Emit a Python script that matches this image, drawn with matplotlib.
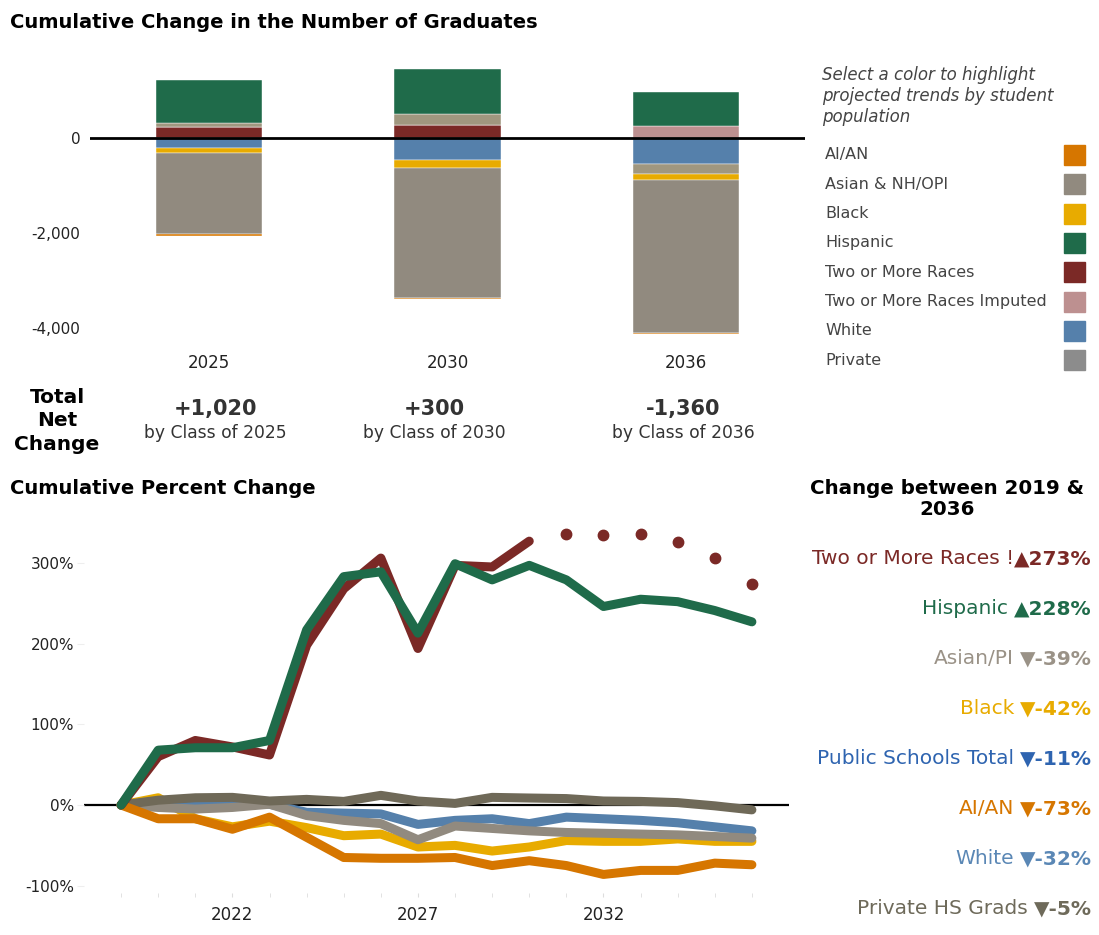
import numpy as np
import matplotlib.pyplot as plt
from matplotlib.patches import Rectangle

# ---- data: cumulative change in number of graduates ----
classes = ['2025', '2030', '2036']
bar_series = ['Two or More Races', 'Two or More Races Imputed', 'White', 'Private',
              'Black', 'Asian & NH/OPI', 'Hispanic', 'AI/AN']
two_more = [239, 267, 0]
two_more_imp = [0, 0, 245]
white = [-201, -468, -552]
private = [84, 245, -196]
black = [-105, -161, -126]
asian = [-1715, -2729, -3220]
hispanic = [888, 945, 714]
aian = [-30, -30, -30]
net_totals = ['+1,020', '+300', '-1,360']

legend_names = ['AI/AN', 'Asian & NH/OPI', 'Black', 'Hispanic', 'Two or More Races',
                'Two or More Races Imputed', 'White', 'Private']

# ---- data: cumulative percent change ----
years = np.arange(2019, 2037)
pct_two_more = [0, 60, 80, 72, 62, 198, 268, 306, 194, 297, 295, 327]
pct_two_more_proj = [327, 336, 334, 336, 326, 306, 274]
pct_hispanic = [0, 68, 71, 71, 80, 217, 283, 289, 213, 299, 279, 297, 279, 246, 255, 252, 241, 227]
pct_private = [0, 6, 9, 9.5, 5, 7, 4.5, 12, 5, 2, 9.5, 8.7, 8, 5, 4.5, 3, -1, -6]
pct_white = [0, 1, 1, 1, 1, -9, -10, -11, -24, -19, -17, -23, -15, -17, -19, -22, -27, -32]
pct_asian = [0, -3, -5, -3, 1, -13, -19, -23, -43, -26, -29, -32, -34, -35, -36, -37, -39, -41]
pct_black = [0, 9, -17, -27, -20, -28, -38, -36, -52, -50, -57, -52, -44, -45, -45, -42, -45, -45]
pct_aian = [0, -17, -17, -30, -15, -40, -65, -66, -66, -65, -75, -69, -75, -86, -81, -81, -72, -74]

summary_names = ['Two or More Races !', 'Hispanic ', 'Asian/PI ', 'Black ',
                 'Public Schools Total ', 'AI/AN ', 'White ', 'Private HS Grads ']
summary_values = ['▲273%', '▲228%', '▼-39%', '▼-42%', '▼-11%', '▼-73%', '▼-32%', '▼-5%']

colors = {
    'AI/AN': '#d67600',
    'Asian & NH/OPI': '#918a7f',
    'Black': '#e8ab00',
    'Hispanic': '#1f6b4a',
    'Two or More Races': '#7b2926',
    'Two or More Races Imputed': '#bd9090',
    'White': '#5580ab',
    'Private': '#a0977f',
}
legend_colors = dict(colors)
legend_colors['Private'] = '#8c8c8c'
summary_colors = ['#7b2926', '#1f6b4a', '#9a9287', '#e8ab00', '#2e64b0', '#d67600',
                  '#5a87b5', '#6e6a5a']

W, H = 1099, 935
def fx(x):
    return x / W
def fy(y):
    return 1 - y / H

fig = plt.figure(figsize=(10.99, 9.35), dpi=100)

# ---------- top bar chart ----------
ax1 = fig.add_axes([fx(90), fy(345), fx(805) - fx(90), fy(50) - fy(345)])
x = np.arange(len(classes))
vals = [two_more, two_more_imp, white, private, black, asian, hispanic, aian]
pos_bottom = np.zeros(len(classes))
neg_bottom = np.zeros(len(classes))
for name, v in zip(bar_series, vals):
    v = np.array(v, dtype=float)
    bottoms = np.where(v >= 0, pos_bottom, neg_bottom)
    ax1.bar(x, v, width=0.445, bottom=bottoms, color=colors[name],
            edgecolor='white', linewidth=0.3)
    pos_bottom += np.where(v >= 0, v, 0)
    neg_bottom += np.where(v < 0, v, 0)
ax1.axhline(0, color='black', lw=2)
ax1.set_xlim(-0.5, 2.5)
ax1.set_ylim(-4350, 1850)
ax1.set_yticks([0, -2000, -4000])
ax1.set_yticklabels(['0', '-2,000', '-4,000'])
ax1.set_xticks(x)
ax1.set_xticklabels(classes)
ax1.tick_params(axis='y', length=0, labelsize=11, colors='#222222', pad=7)
ax1.tick_params(axis='x', length=0, labelsize=12, colors='#222222', pad=6.5)
for s in ax1.spines.values():
    s.set_visible(False)

fig.text(fx(10), fy(22), 'Cumulative Change in the Number of Graduates',
         fontsize=14, fontweight='bold', va='center')

# net change row
fig.text(fx(57), fy(421), 'Total\nNet\nChange', fontsize=14.5, fontweight='bold',
         ha='center', va='center', linespacing=1.32)
for xc, tot, cl in zip([215, 434, 683], net_totals, classes):
    fig.text(fx(xc), fy(409), tot, fontsize=15, fontweight='bold', ha='center',
             va='center', color='#333333')
    fig.text(fx(xc), fy(433), f'by Class of {cl}', fontsize=12.3, ha='center',
             va='center', color='#333333')

# legend
fig.text(fx(822), fy(96), 'Select a color to highlight\nprojected trends by student\npopulation',
         fontsize=12, style='italic', color='#444444', va='center', linespacing=1.25)
for i, name in enumerate(legend_names):
    yy = 155 + i * 29.3
    fig.text(fx(825), fy(yy), name, fontsize=11.5, color='#444444', va='center')
    fig.patches.append(Rectangle((fx(1064), fy(yy + 10)), fx(21), 20 / H,
                                 transform=fig.transFigure, color=legend_colors[name]))

# ---------- bottom line chart ----------
ax2 = fig.add_axes([fx(84), fy(893), fx(789) - fx(84), fy(525) - fy(893)])
lw = 6.5
ax2.axhline(0, color='black', lw=1.6, zorder=1)
ax2.plot(years, pct_black, color=colors['Black'], lw=lw, solid_capstyle='round')
ax2.plot(years, pct_white, color=colors['White'], lw=lw, solid_capstyle='round')
ax2.plot(years, pct_asian, color='#918a7f', lw=lw, solid_capstyle='round')
ax2.plot(years, pct_private, color='#6f6958', lw=lw, solid_capstyle='round')
ax2.plot(years, pct_aian, color=colors['AI/AN'], lw=lw, solid_capstyle='round')
ax2.plot(years[:len(pct_two_more)], pct_two_more, color=colors['Two or More Races'],
         lw=lw, solid_capstyle='round')
ax2.plot(years[len(pct_two_more) - 1:][1:], pct_two_more_proj[1:], 'o',
         color=colors['Two or More Races'], ms=7.5)
ax2.plot(years, pct_hispanic, color=colors['Hispanic'], lw=lw, solid_capstyle='round')
ax2.set_xlim(2018, 2037)
ax2.set_ylim(-109, 347)
ax2.set_yticks([-100, 0, 100, 200, 300])
ax2.set_yticklabels(['-100%', '0%', '100%', '200%', '300%'])
ax2.set_xticks([2022, 2027, 2032])
ax2.set_xticks(years, minor=True)
ax2.tick_params(axis='y', length=5, color='#eeeeee', labelsize=11, colors='#222222', pad=2)
ax2.tick_params(axis='y', color='#eeeeee')
ax2.tick_params(axis='x', which='major', length=3, color='#dddddd', labelsize=12,
                colors='#222222', pad=6)
ax2.tick_params(axis='x', which='both', color='#dddddd')
ax2.tick_params(axis='x', which='minor', length=3)
for s in ax2.spines.values():
    s.set_visible(False)

fig.text(fx(10), fy(488), 'Cumulative Percent Change', fontsize=14, fontweight='bold',
         va='center')

# summary panel
fig.text(fx(947), fy(499), 'Change between 2019 &\n2036', fontsize=14.3, fontweight='bold',
         ha='center', va='center', linespacing=1.1)
fig.canvas.draw()
renderer = fig.canvas.get_renderer()
for i, (nm, val, c) in enumerate(zip(summary_names, summary_values, summary_colors)):
    yy = 559 + i * 50
    t = fig.text(fx(1092), fy(yy), val, fontsize=14.5, fontweight='bold', color=c,
                 ha='right', va='center')
    bb = t.get_window_extent(renderer=renderer)
    gap = 0 if nm.endswith('!') else 6
    fig.text((bb.x0 - gap) / W, fy(yy), nm.rstrip(), fontsize=14.5, color=c,
             ha='right', va='center')

fig.savefig('out.png', dpi=100)
